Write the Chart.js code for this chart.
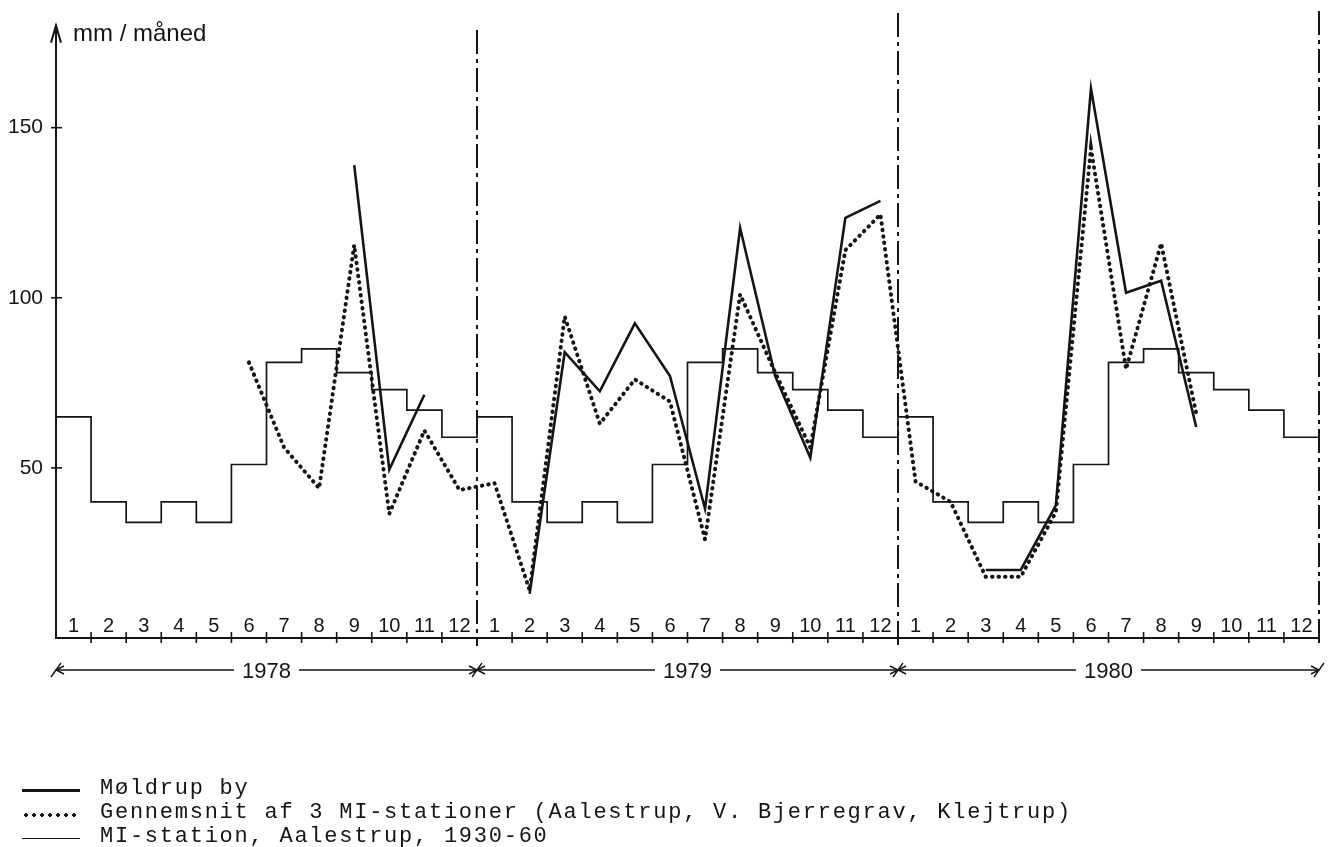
<!DOCTYPE html>
<html>
<head>
<meta charset="utf-8">
<title>Nedbør, Møldrup</title>
<script src="https://cdn.jsdelivr.net/npm/chart.js"></script>
<style>
    html, body { margin: 0; padding: 0; background: #fff; }
    #wrap { position: relative; width: 1338px; height: 847px; overflow: hidden; }
    #chart { position: absolute; left: 0; top: 0; }
    .legend { position: absolute; left: 0; top: 777px; font-family: "Liberation Mono", monospace; font-size: 22px; letter-spacing: 1.75px; color: #151515; }
    .row { position: relative; height: 24px; line-height: 24px; padding-left: 100px; white-space: pre; }
    .sample { position: absolute; left: 22px; width: 58px; }
    .s-solid { top: 12px; border-top: 3px solid #151515; }
    .s-dots { top: 12px; height: 4px; background: radial-gradient(circle, #151515 1.7px, transparent 2px) 0 0 / 8px 4px repeat-x; }
    .s-thin { top: 13px; border-top: 1.6px solid #151515; }
</style>
</head>
<body>
<div id="wrap">
    <canvas id="chart" width="1338" height="847"></canvas>
    <div class="legend">
        <div class="row"><span class="sample s-solid"></span>Møldrup by</div>
        <div class="row"><span class="sample s-dots"></span>Gennemsnit af 3 MI-stationer (Aalestrup, V. Bjerregrav, Klejtrup)</div>
        <div class="row"><span class="sample s-thin"></span>MI-station, Aalestrup, 1930-60</div>
    </div>
</div>
<script>
const years = ['1978', '1979', '1980'];
const monthLabels = ['1', '2', '3', '4', '5', '6', '7', '8', '9', '10', '11', '12'];
const yTicks = [50, 100, 150];

// MI-station, Aalestrup, 1930-60 (monthly normals, same for every year)
const normals = [65, 40, 34, 40, 34, 51, 81, 85, 78, 73, 67, 59];

// Møldrup by
const moldrup1978 = [null, null, null, null, null, null, null, null, 139, 49.5, 71.5, null];
const moldrup1979 = [null, 13, 84, 72.5, 92.5, 77, 38, 120.5, 77, 53, 123.5, 128.5];
const moldrup1980 = [null, null, 20, 20, 39, 161.5, 101.5, 105, 62, null, null, null];

// Gennemsnit af 3 MI-stationer
const mean1978 = [null, null, null, null, null, 81, 56, 44, 115.5, 36.5, 61, 43.5];
const mean1979 = [45.5, 14, 94.5, 63, 76, 69.5, 29, 101, 78, 56, 114, 124.5];
const mean1980 = [46, 40, 18, 18, 37, 144, 79, 116, 66, null, null, null];

const ink = '#151515';

// one point per month, placed in the middle of the month
function monthSeries(perYear) {
    const pts = [];
    perYear.forEach((arr, yi) => {
        arr.forEach((v, mi) => pts.push({ x: yi * 12 + mi + 0.5, y: v }));
    });
    return pts;
}

// step line: value holds over the whole month
function stepSeries(vals) {
    const pts = [];
    years.forEach((yr, yi) => {
        vals.forEach((v, mi) => pts.push({ x: yi * 12 + mi, y: v }));
    });
    pts.push({ x: years.length * 12, y: vals[vals.length - 1] });
    return pts;
}

const decor = {
    id: 'decor',
    afterDraw(chart) {
        const { ctx, chartArea } = chart;
        const x = chart.scales.x;
        const y = chart.scales.y;
        const left = x.getPixelForValue(0);
        const right = x.getPixelForValue(36);
        const base = y.getPixelForValue(0);
        const top = chartArea.top;

        ctx.save();
        ctx.strokeStyle = ink;
        ctx.fillStyle = ink;
        ctx.lineCap = 'butt';

        // y axis + arrow
        ctx.lineWidth = 2;
        ctx.beginPath();
        ctx.moveTo(left, base + 1);
        ctx.lineTo(left, top);
        ctx.stroke();
        ctx.beginPath();
        ctx.moveTo(left - 5, top + 17);
        ctx.lineTo(left, top);
        ctx.lineTo(left + 5, top + 17);
        ctx.stroke();

        ctx.font = '24px "Liberation Sans", sans-serif';
        ctx.textAlign = 'left';
        ctx.fillText('mm / måned', left + 17, top + 15);

        ctx.lineWidth = 1.6;
        yTicks.forEach(v => {
            const py = y.getPixelForValue(v);
            ctx.beginPath();
            ctx.moveTo(left - 5, py);
            ctx.lineTo(left + 6, py);
            ctx.stroke();
        });

        // x axis, month ticks and labels
        ctx.lineWidth = 2;
        ctx.beginPath();
        ctx.moveTo(left, base);
        ctx.lineTo(right, base);
        ctx.stroke();

        ctx.lineWidth = 1.6;
        for (let k = 1; k < 36; k++) {
            if (k % 12 === 0) continue;
            const px = x.getPixelForValue(k);
            ctx.beginPath();
            ctx.moveTo(px, base - 6);
            ctx.lineTo(px, base + 5);
            ctx.stroke();
        }

        ctx.font = '20px "Liberation Sans", sans-serif';
        ctx.textAlign = 'center';
        years.forEach((yr, yi) => {
            monthLabels.forEach((m, mi) => {
                ctx.fillText(m, x.getPixelForValue(yi * 12 + mi + 0.5), base - 6);
            });
        });

        // dash-dot year separators
        ctx.lineWidth = 2;
        ctx.setLineDash([24, 5, 4, 5]);
        [[12, 30], [24, 13], [36, 11]].forEach(([k, y0]) => {
            const px = x.getPixelForValue(k);
            ctx.beginPath();
            ctx.moveTo(px, y0);
            ctx.lineTo(px, base + 8);
            ctx.stroke();
        });
        ctx.setLineDash([]);

        // year row
        const yr = 670;
        ctx.font = '22px "Liberation Sans", sans-serif';
        ctx.lineWidth = 1.4;
        years.forEach((label, yi) => {
            const x0 = x.getPixelForValue(yi * 12);
            const x1 = x.getPixelForValue(yi * 12 + 12);
            const mid = (x0 + x1) / 2;
            const w = ctx.measureText(label).width;
            ctx.beginPath();
            ctx.moveTo(x0, yr);
            ctx.lineTo(mid - w / 2 - 8, yr);
            ctx.moveTo(mid + w / 2 + 8, yr);
            ctx.lineTo(x1, yr);
            ctx.stroke();
            ctx.fillText(label, mid, yr + 8);
        });
        for (let k = 0; k <= 36; k += 12) {
            const px = x.getPixelForValue(k);
            ctx.beginPath();
            ctx.moveTo(px - 5, yr + 7);
            ctx.lineTo(px + 5, yr - 7);
            if (k < 36) {
                ctx.moveTo(px + 8, yr - 4);
                ctx.lineTo(px, yr);
                ctx.lineTo(px + 8, yr + 4);
            }
            if (k > 0) {
                ctx.moveTo(px - 8, yr - 4);
                ctx.lineTo(px, yr);
                ctx.lineTo(px - 8, yr + 4);
            }
            ctx.stroke();
        }
        ctx.restore();
    }
};

new Chart(document.getElementById('chart').getContext('2d'), {
    type: 'line',
    data: {
        datasets: [
            {
                label: 'MI-station, Aalestrup, 1930-60',
                data: stepSeries(normals),
                stepped: 'before',
                borderColor: ink,
                borderWidth: 1.7,
                pointRadius: 0
            },
            {
                label: 'Gennemsnit af 3 MI-stationer (Aalestrup, V. Bjerregrav, Klejtrup)',
                data: monthSeries([mean1978, mean1979, mean1980]),
                borderColor: ink,
                borderWidth: 4,
                borderDash: [0.5, 6],
                borderCapStyle: 'round',
                pointRadius: 0,
                spanGaps: false
            },
            {
                label: 'Møldrup by',
                data: monthSeries([moldrup1978, moldrup1979, moldrup1980]),
                borderColor: ink,
                borderWidth: 2.6,
                pointRadius: 0,
                spanGaps: false
            }
        ]
    },
    options: {
        responsive: false,
        animation: false,
        devicePixelRatio: 1,
        layout: { padding: { top: 15, right: 19, bottom: 209, left: 0 } },
        plugins: {
            legend: { display: false },
            tooltip: { enabled: false }
        },
        scales: {
            x: {
                type: 'linear',
                min: 0,
                max: 36,
                display: false
            },
            y: {
                min: 0,
                max: 180,
                afterBuildTicks: scale => { scale.ticks = yTicks.map(v => ({ value: v })); },
                afterFit: scale => { scale.width = 56; },
                grid: { display: false, drawTicks: false },
                border: { display: false },
                ticks: {
                    padding: 13,
                    color: ink,
                    font: { family: '"Liberation Sans", sans-serif', size: 21 }
                }
            }
        }
    },
    plugins: [decor]
});
</script>
</body>
</html>
